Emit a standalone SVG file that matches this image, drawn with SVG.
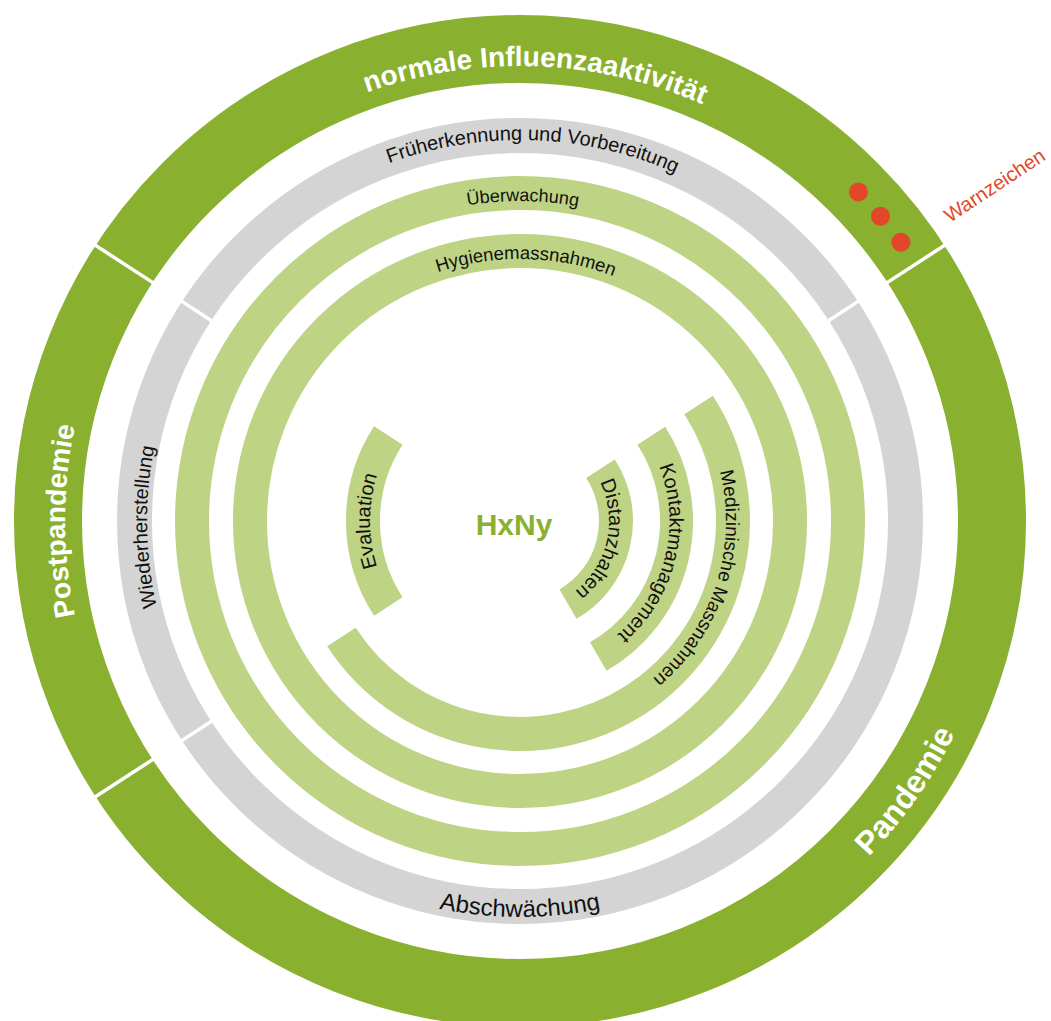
<svg xmlns="http://www.w3.org/2000/svg" width="1051" height="1021" viewBox="0 0 1051 1021">
  <style>
    .band { fill: none; stroke-linecap: butt; }
    .outer { stroke: #8AB030; stroke-width: 68; }
    .grey { stroke: #D4D4D4; stroke-width: 35; }
    .light { stroke: #BED384; stroke-width: 34; }
    .cut { stroke: #FFFFFF; stroke-width: 3.5; }
    .lbl { font-family: "Liberation Sans", Arial, sans-serif; fill: #111111; font-size: 20px; }
    .phase { font-family: "Liberation Sans", Arial, sans-serif; fill: #FFFFFF; font-weight: bold; font-size: 28px; }
    .warn { fill: #E3472A; }
  </style>
  <defs>
    <!-- baseline paths for curved labels, centre (520,521) -->
    <path id="p-normal" d="M134.16,279.9 A455,455 0 0 1 921.7,307.4"/>
    <path id="p-post" d="M292.5,915 A455,455 0 0 1 292.5,127"/>
    <path id="p-pand" d="M487.2,1003.9 A484,484 0 0 0 962.3,324.3"/>
    <path id="p-frueh" d="M196.9,319.1 A381,381 0 0 1 856.4,342.1"/>
    <path id="p-ueber" d="M244.3,358.6 A320,320 0 0 1 798.5,363.5"/>
    <path id="p-hyg" d="M296.1,384.9 A262,262 0 0 1 749.8,395.2"/>
    <path id="p-wieder" d="M338.6,847.0 A373,373 0 0 1 328.5,201.0"/>
    <path id="p-absch" d="M177.1,719 A396,396 0 0 0 862.9,719"/>
    <path id="p-eval" d="M445,650.9 A150,150 0 0 1 445,391.1"/>
    <path id="p-dist" d="M580.7,455.9 A89,89 0 0 1 546.0,606.1"/>
    <path id="p-kont" d="M623.9,413.5 A149.5,149.5 0 0 1 561.2,664.7"/>
    <path id="p-med" d="M673.1,383.2 A206,206 0 0 1 562.8,722.5"/>
  </defs>

  <rect width="1051" height="1021" fill="#FFFFFF"/>

  <!-- outer phase ring -->
  <g id="phase-ring">
    <circle class="band outer" cx="520" cy="521" r="472"/>
    <line class="cut" x1="156.0" y1="757.4" x2="92.3" y2="798.7"/>
    <line class="cut" x1="156.0" y1="284.6" x2="92.3" y2="243.3"/>
    <line class="cut" x1="884.0" y1="284.6" x2="947.7" y2="243.3"/>
  </g>
  <g id="normale-influenzaaktivitaet">
    <text class="phase"><textPath href="#p-normal" startOffset="50%" text-anchor="middle">normale Influenzaaktivität</textPath></text>
  </g>
  <g id="postpandemie">
    <text class="phase"><textPath href="#p-post" startOffset="50%" text-anchor="middle">Postpandemie</textPath></text>
  </g>
  <g id="pandemie">
    <text class="phase" style="font-size:32px"><textPath href="#p-pand" startOffset="50%" text-anchor="middle">Pandemie</textPath></text>
  </g>
  <g id="warnzeichen">
    <circle class="warn" cx="858.4" cy="191.9" r="9.5"/>
    <circle class="warn" cx="880.5" cy="216.3" r="9.5"/>
    <circle class="warn" cx="900.9" cy="242.2" r="9.5"/>
    <text class="warn" x="0" y="0" transform="translate(950,223) rotate(-33.5)" style="font-family:'Liberation Sans',Arial,sans-serif;font-size:20px">Warnzeichen</text>
  </g>

  <!-- grey ring: preparation / mitigation / recovery -->
  <g id="response-ring">
    <circle class="band grey" cx="520" cy="521" r="385.5"/>
    <line class="cut" x1="213.9" y1="719.8" x2="179.5" y2="742.1"/>
    <line class="cut" x1="213.9" y1="322.2" x2="179.5" y2="299.9"/>
    <line class="cut" x1="826.1" y1="322.2" x2="860.5" y2="299.9"/>
  </g>
  <g id="frueherkennung">
    <text class="lbl"><textPath href="#p-frueh" startOffset="50%" text-anchor="middle">Früherkennung und Vorbereitung</textPath></text>
  </g>
  <g id="wiederherstellung">
    <text class="lbl"><textPath href="#p-wieder" startOffset="50%" text-anchor="middle">Wiederherstellung</textPath></text>
  </g>
  <g id="abschwaechung">
    <text class="lbl" style="font-size:24px"><textPath href="#p-absch" startOffset="50%" text-anchor="middle">Abschwächung</textPath></text>
  </g>

  <!-- measure rings -->
  <g id="ueberwachung">
    <circle class="band light" cx="520" cy="521" r="328"/>
    <text class="lbl" style="font-size:18px"><textPath href="#p-ueber" startOffset="50%" text-anchor="middle">Überwachung</textPath></text>
  </g>
  <g id="hygienemassnahmen">
    <circle class="band light" cx="520" cy="521" r="270"/>
    <text class="lbl" style="font-size:18.5px"><textPath href="#p-hyg" startOffset="50%" text-anchor="middle">Hygienemassnahmen</textPath></text>
  </g>
  <g id="medizinische-massnahmen">
    <path class="band light" d="M698.6,405.0 A213,213 0 0 1 636.0,699.6 A213,213 0 0 1 341.4,637.0"/>
    <text class="lbl" style="font-size:19px"><textPath href="#p-med" startOffset="50%" text-anchor="middle">Medizinische Massnahmen</textPath></text>
  </g>
  <g id="kontaktmanagement">
    <path class="band light" style="stroke-width:33" d="M651.3,435.8 A156.5,156.5 0 0 1 598.3,656.5"/>
    <text class="lbl"><textPath href="#p-kont" startOffset="50%" text-anchor="middle">Kontaktmanagement</textPath></text>
  </g>
  <g id="distanzhalten">
    <path class="band light" d="M600.5,468.7 A96,96 0 0 1 568,604.1"/>
    <text class="lbl"><textPath href="#p-dist" startOffset="50%" text-anchor="middle">Distanzhalten</textPath></text>
  </g>
  <g id="evaluation">
    <path class="band light" d="M388.3,606.5 A157,157 0 0 1 388.3,435.5"/>
    <text class="lbl"><textPath href="#p-eval" startOffset="50%" text-anchor="middle">Evaluation</textPath></text>
  </g>

  <g id="hxny">
    <text x="514" y="535" text-anchor="middle" style="font-family:'Liberation Sans',Arial,sans-serif;font-weight:bold;font-size:30px;fill:#8AB030">HxNy</text>
  </g>
</svg>
